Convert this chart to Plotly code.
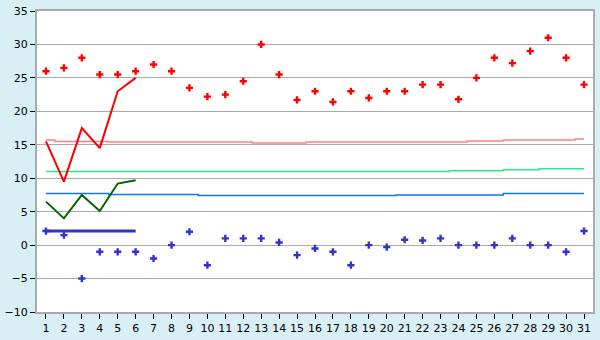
import plotly.graph_objects as go

days = list(range(1, 32))
tmax = [26, 26.5, 28, 25.5, 25.5, 26, 27, 26, 23.5, 22.2, 22.5, 24.5, 30, 25.5, 21.7, 23,
        21.4, 23, 22, 23, 23, 24, 24, 21.8, 25, 28, 27.2, 29, 31, 28, 24]
tmin = [2.1, 1.5, -5, -1, -1, -1, -2, 0, 2, -3, 1, 1, 1, 0.4, -1.5, -0.5,
        -1, -3, 0, -0.3, 0.8, 0.7, 1, 0, 0, 0, 1, 0, 0, -1, 2.1]
cur_days = [1, 2, 3, 4, 5, 6]
cur_max = [15.5, 9.5, 17.5, 14.5, 23, 25]
cur_mean = [6.5, 4, 7.5, 5.1, 9.2, 9.7]
cur_min = [2.1, 2.1, 2.1, 2.1, 2.1, 2.1]
norm_max = [15.7, 15.5, 15.5, 15.5, 15.4, 15.4, 15.4, 15.4, 15.4, 15.4, 15.4, 15.4, 15.25, 15.25, 15.25,
            15.4, 15.4, 15.4, 15.4, 15.4, 15.4, 15.4, 15.4, 15.4, 15.55, 15.55, 15.7, 15.7, 15.7, 15.7, 15.85]
norm_hi = [11.0] * 23 + [11.1, 11.1, 11.1, 11.25, 11.25, 11.4, 11.4, 11.4]
norm_lo = [7.7, 7.7, 7.7, 7.7, 7.55, 7.55, 7.55, 7.55, 7.55] + [7.42] * 11 + [7.5] * 6 + [7.7] * 5

fig = go.Figure()
fig.add_trace(go.Scatter(x=days, y=norm_max, mode="lines", line=dict(color="#ff8080", width=1.5, shape="hvh"), hoverinfo="skip"))
fig.add_trace(go.Scatter(x=days, y=norm_hi, mode="lines", line=dict(color="#2ee888", width=1.5, shape="hvh"), hoverinfo="skip"))
fig.add_trace(go.Scatter(x=days, y=norm_lo, mode="lines", line=dict(color="#1177ee", width=1.5, shape="hvh"), hoverinfo="skip"))
fig.add_trace(go.Scatter(x=days, y=tmax, mode="markers",
                         marker=dict(symbol="cross", color="#ff0000", size=6, line=dict(width=0))))
fig.add_trace(go.Scatter(x=days, y=tmin, mode="markers",
                         marker=dict(symbol="cross", color="#3333cc", size=6, line=dict(width=0))))
fig.add_trace(go.Scatter(x=cur_days, y=cur_max, mode="lines", line=dict(color="#ff0000", width=2)))
fig.add_trace(go.Scatter(x=cur_days, y=cur_mean, mode="lines", line=dict(color="#006600", width=2)))
fig.add_trace(go.Scatter(x=cur_days, y=cur_min, mode="lines", line=dict(color="#3333cc", width=3)))

fig.update_layout(
    width=600, height=340,
    margin=dict(l=26, r=5, t=5, b=20),
    paper_bgcolor="#d9eff6", plot_bgcolor="#ffffff",
    showlegend=False,
    font=dict(family="DejaVu Sans", size=11, color="#000000"),
)
fig.update_xaxes(range=[0.5, 31.5], tickmode="array", tickvals=days, ticktext=[str(d) for d in days],
                 showgrid=False, zeroline=False, showline=True, linecolor="#aaaaaa", linewidth=2,
                 ticks="outside", ticklen=5, tickcolor="#000000", mirror=True, fixedrange=True)
fig.update_yaxes(range=[-10, 35], dtick=5, showgrid=True, gridcolor="#aaaaaa", gridwidth=1,
                 zeroline=False, showline=True, linecolor="#aaaaaa", linewidth=2,
                 ticks="outside", ticklen=5, tickcolor="#000000", mirror=True, fixedrange=True)

fig.write_html("out.html")
